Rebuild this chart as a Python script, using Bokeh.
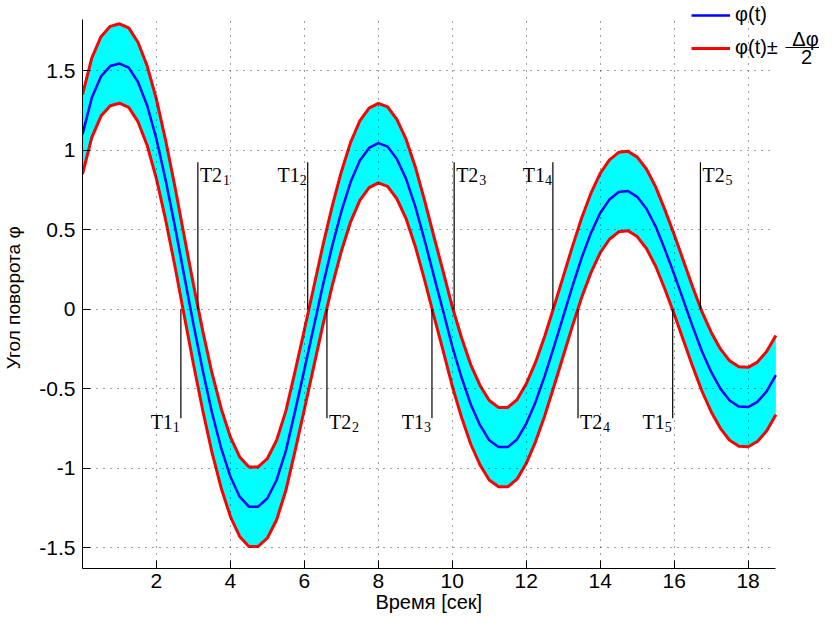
from bokeh.plotting import figure
from bokeh.models import (ColumnDataSource, FixedTicker, Label, Arrow, Legend,
                          LegendItem, Range1d)
from bokeh.core.properties import value
from bokeh.embed import file_html
from bokeh.resources import INLINE

# ---------------- data ----------------
time_s = [0.00, 0.25, 0.50, 0.75, 1.00, 1.25, 1.50, 1.75, 2.00, 2.25,
          2.50, 2.75, 3.00, 3.25, 3.50, 3.75, 4.00, 4.25, 4.50, 4.75,
          5.00, 5.25, 5.50, 5.75, 6.00, 6.25, 6.50, 6.75, 7.00, 7.25,
          7.50, 7.75, 8.00, 8.25, 8.50, 8.75, 9.00, 9.25, 9.50, 9.75,
          10.00, 10.25, 10.50, 10.75, 11.00, 11.25, 11.50, 11.75, 12.00, 12.25,
          12.50, 12.75, 13.00, 13.25, 13.50, 13.75, 14.00, 14.25, 14.50, 14.75,
          15.00, 15.25, 15.50, 15.75, 16.00, 16.25, 16.50, 16.75, 17.00, 17.25,
          17.50, 17.75, 18.00, 18.25, 18.50, 18.75]
phi = [1.100, 1.330, 1.465, 1.530, 1.546, 1.520, 1.430, 1.280, 1.070, 0.810,
       0.520, 0.210, -0.095, -0.385, -0.650, -0.875, -1.055, -1.180, -1.243, -1.243,
       -1.190, -1.075, -0.890, -0.640, -0.380, -0.115, 0.150, 0.395, 0.615, 0.800,
       0.935, 1.015, 1.045, 1.023, 0.945, 0.820, 0.645, 0.435, 0.210, -0.010,
       -0.235, -0.430, -0.600, -0.730, -0.825, -0.868, -0.868, -0.820, -0.720, -0.585,
       -0.420, -0.235, -0.045, 0.145, 0.325, 0.480, 0.605, 0.690, 0.737, 0.744,
       0.707, 0.632, 0.520, 0.375, 0.220, 0.055, -0.110, -0.265, -0.395, -0.500,
       -0.575, -0.613, -0.616, -0.583, -0.517, -0.415]
half_delta_phi = 0.25

T1_times = [2.66, 6.09, 9.45, 12.72, 15.96]
T2_times = [3.12, 6.61, 10.05, 13.40, 16.71]
crossing_index = ["1", "2", "3", "4", "5"]
crossing_downward = [True, False, True, False, True]

x_ticks = [2, 4, 6, 8, 10, 12, 14, 16, 18]
x_tick_labels = ["2", "4", "6", "8", "10", "12", "14", "16", "18"]
y_ticks = [-1.5, -1.0, -0.5, 0.0, 0.5, 1.0, 1.5]
y_tick_labels = ["-1.5", "-1", "-0.5", "0", "0.5", "1", "1.5"]

x_label = "Время [сек]"
y_label = "Угол поворота φ"
legend_mean = "φ(t)"
legend_band = "φ(t)±"
frac_num = "Δφ"
frac_den = "2"

# ---------------- layout / style constants ----------------
AX_X = (0.0, 18.75)          # axes box limits (data)
AX_Y = (-1.632, 1.823)
VIEW_X = (0.0, 19.93)        # drawing area extends to the right for the legend
VIEW_Y = (-1.632, 1.9426)    # and upwards
MARK_HIGH = 0.925
MARK_LOW = -0.686
NBSP = "\u00a0"
TICK_FONT = "Liberation Sans Narrow, Liberation Sans, Arial, sans-serif"
LABEL_FONT = "Liberation Sans, Arial, sans-serif"
SERIF = "Liberation Serif, Times New Roman, serif"

src = ColumnDataSource(dict(
    t=time_s,
    phi=phi,
    hi=[v + half_delta_phi for v in phi],
    lo=[v - half_delta_phi for v in phi],
))

p = figure(width=819, height=620, output_backend="svg", toolbar_location=None,
           x_range=Range1d(*VIEW_X), y_range=Range1d(*VIEW_Y),
           min_border_left=76, min_border_right=0, min_border_top=0,
           min_border_bottom=52)
p.outline_line_color = None
p.background_fill_color = "white"
p.border_fill_color = "white"

# band and curves
p.varea(x="t", y1="lo", y2="hi", source=src, fill_color="#00FFFF")
r_hi = p.line("t", "hi", source=src, line_color="#FF0000", line_width=3)
p.line("t", "lo", source=src, line_color="#FF0000", line_width=3)
r_mid = p.line("t", "phi", source=src, line_color="#0000FF", line_width=2.5)

# T marker lines and labels
seg_x, seg_y1 = [], []
lab = dict(x=[], y=[], txt=[], align=[], xo=[], yo=[])
sub = dict(x=[], y=[], txt=[], align=[], xo=[], yo=[])
for k in range(len(T1_times)):
    down = crossing_downward[k]
    for name, tt, is_t1 in (("T1", T1_times[k], True), ("T2", T2_times[k], False)):
        goes_low = down if is_t1 else (not down)
        yend = MARK_LOW if goes_low else MARK_HIGH
        seg_x.append(tt)
        seg_y1.append(yend)
        yo = 4 if goes_low else 13
        lab["x"].append(tt); lab["y"].append(yend); lab["txt"].append(name)
        sub["x"].append(tt); sub["y"].append(yend); sub["txt"].append(crossing_index[k])
        if is_t1:
            lab["align"].append("right"); lab["xo"].append(-8)
            sub["align"].append("right"); sub["xo"].append(-1)
        else:
            lab["align"].append("left"); lab["xo"].append(2)
            sub["align"].append("left"); sub["xo"].append(25)
        lab["yo"].append(yo)
        sub["yo"].append(yo + 5)

p.segment(x0=seg_x, y0=[0.0] * len(seg_x), x1=seg_x, y1=seg_y1,
          line_color="black", line_width=1.2)
p.text(x="x", y="y", text="txt", source=ColumnDataSource(lab),
       text_align="align", x_offset="xo", y_offset="yo",
       text_baseline="alphabetic", text_font=value(SERIF),
       text_font_size="20px", text_color="black")
p.text(x="x", y="y", text="txt", source=ColumnDataSource(sub),
       text_align="align", x_offset="xo", y_offset="yo",
       text_baseline="alphabetic", text_font=value(SERIF),
       text_font_size="14px", text_color="black")

# axes
for ax, ticks, labels in ((p.xaxis, x_ticks, x_tick_labels), (p.yaxis, y_ticks, y_tick_labels)):
    ax.ticker = FixedTicker(ticks=ticks)
    ax.major_label_overrides = {t: l for t, l in zip(ticks, labels)}
    ax.major_tick_in = 8
    ax.major_tick_out = 0
    ax.minor_tick_line_color = None
    ax.axis_line_color = "black"
    ax.major_tick_line_color = "black"
    ax.major_label_text_font = TICK_FONT
    ax.major_label_text_font_size = "21px"
    ax.major_label_text_color = "black"
    ax.axis_label_text_font = LABEL_FONT
    ax.axis_label_text_font_style = "normal"
    ax.axis_label_text_color = "black"

p.xaxis.bounds = AX_X
p.yaxis.bounds = AX_Y
# trailing no-break spaces re-centre the labels on the axes box
# (the drawing area is wider/taller than the box because of the legend)
p.xaxis.axis_label = x_label + NBSP * 8
p.yaxis.axis_label = y_label + NBSP * 5
p.xaxis.axis_label_text_font_size = "20px"
p.yaxis.axis_label_text_font_size = "19px"
p.xaxis.major_label_standoff = 5
p.xaxis.axis_label_standoff = 0
p.yaxis.major_label_standoff = 7
p.yaxis.axis_label_standoff = 12

for g, ticks, cross in ((p.xgrid, x_ticks, AX_Y), (p.ygrid, y_ticks, AX_X)):
    g.ticker = FixedTicker(ticks=ticks)
    g.grid_line_color = "black"
    g.grid_line_alpha = 0.75
    g.grid_line_dash = "1 6"
    g.grid_line_width = 1
    g.level = "guide"
    g.cross_bounds = cross

# legend
legend = Legend(items=[LegendItem(label=legend_mean, renderers=[r_mid]),
                       LegendItem(label=legend_band, renderers=[r_hi])],
                location=(609, 509), glyph_width=39, glyph_height=20,
                label_height=20, spacing=10, padding=0, margin=0,
                label_standoff=5, background_fill_alpha=0,
                border_line_color=None, label_text_font=LABEL_FONT,
                label_text_font_size="20px", label_text_color="black")
p.add_layout(legend)

p.add_layout(Label(x=723, y=530, x_units="screen", y_units="screen", text=frac_num,
                   text_align="center", text_baseline="middle",
                   text_font=LABEL_FONT, text_font_size="20px", text_color="black"))
p.add_layout(Label(x=724, y=512, x_units="screen", y_units="screen", text=frac_den,
                   text_align="center", text_baseline="middle",
                   text_font=LABEL_FONT, text_font_size="20px", text_color="black"))
p.add_layout(Arrow(x_start=703, y_start=521, x_end=742, y_end=521,
                   start_units="screen", end_units="screen", start=None, end=None,
                   line_color="black", line_width=1.2))

open("out.html", "w").write(file_html(p, INLINE))
